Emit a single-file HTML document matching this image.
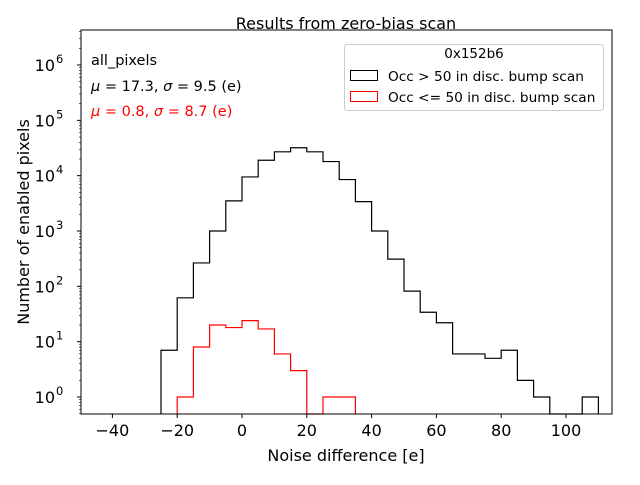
<!DOCTYPE html>
<html><head><meta charset="utf-8"><style>
body{margin:0;background:#fff}
svg text{font-family:"DejaVu Sans","Liberation Sans",sans-serif}
</style></head><body>
<svg id="c" width="640" height="480" xmlns="http://www.w3.org/2000/svg">
<rect width="640" height="480" fill="#fff"/>
<text x="346" y="29" font-size="16" text-anchor="middle">Results from zero-bias scan</text>
<g id="plot"></g>
<rect x="81" y="30" width="531" height="384" fill="none" stroke="#000" stroke-width="1"/>
<text x="91" y="65" font-size="14.5">all_pixels</text>
<text x="91" y="91" font-size="14.5"><tspan font-style="italic">μ</tspan> = 17.3, <tspan font-style="italic">σ</tspan> = 9.5 (e)</text>
<text x="91" y="116" font-size="14.5" fill="#ff0000"><tspan font-style="italic">μ</tspan> = 0.8, <tspan font-style="italic">σ</tspan> = 8.7 (e)</text>
<g>
<rect x="344.5" y="44.5" width="259" height="66" rx="3" fill="#fff" fill-opacity="0.8" stroke="#ccc"/>
<text x="474" y="58" font-size="13.5" text-anchor="middle">0x152b6</text>
<rect x="350.5" y="70.5" width="27" height="10" fill="none" stroke="#000"/>
<text x="388" y="81" font-size="13.7">Occ &gt; 50 in disc. bump scan</text>
<rect x="350.5" y="91.5" width="27" height="10" fill="none" stroke="#ff0000"/>
<text x="388" y="102" font-size="13.7">Occ &lt;= 50 in disc. bump scan</text>
</g>
<text x="346" y="461" font-size="16" text-anchor="middle">Noise difference [e]</text>
<text transform="translate(29,222) rotate(-90)" font-size="16" text-anchor="middle">Number of enabled pixels</text>
</svg>
<script>
const binStart = -25;
const binWidth = 5;
const blackCounts = [7,62,265,1000,3500,9500,19000,27000,32000,27000,18000,8500,3400,1000,310,82,34,22,6,6,5,7,2,1,0,0,1];
const redStart = -20;
const redCounts = [1,8,20,18,24,17,6,3,0,1,1];
const xTicks = [-40,-20,0,20,40,60,80,100];
const yTickExps = [0,1,2,3,4,5,6];

const NS="http://www.w3.org/2000/svg";
const g=document.getElementById('plot');
const X0=81,X1=612,Y0=30,Y1=414;
const xs=v=>242+v*3.24;
const ys=v=>397-Math.log10(v)*55.33;
function yc(v){return v>0?ys(v):Y1;}
function mk(t,a){const e=document.createElementNS(NS,t);for(const k in a)e.setAttribute(k,a[k]);g.appendChild(e);return e;}
function hist(start,counts,color,name){
  let d=`M${xs(start)},${Y1}`;
  counts.forEach((c,i)=>{const x0=xs(start+i*binWidth),x1=xs(start+(i+1)*binWidth);d+=` L${x0},${yc(c)} L${x1},${yc(c)}`;});
  d+=` L${xs(start+counts.length*binWidth)},${Y1}`;
  const p=mk('path',{d:d,fill:'none',stroke:color,'stroke-width':1.2});
  
  
}
hist(binStart,blackCounts,'#000','histogram-black');
hist(redStart,redCounts,'#ff0000','histogram-red');
xTicks.forEach(v=>{
  const x=xs(v);
  mk('line',{x1:x,x2:x,y1:Y1,y2:Y1+4,stroke:'#000'});
  const t=mk('text',{x:x,y:Y1+22,'font-size':16,'text-anchor':'middle'});
  t.textContent=(v<0?'−'+(-v):v);
  
  
});
yTickExps.forEach(e=>{
  const y=ys(Math.pow(10,e));
  mk('line',{x1:X0-4,x2:X0,y1:y,y2:y,stroke:'#000'});
  const t=mk('text',{x:X0-26,y:y+6,'font-size':16,'text-anchor':'end'});
  t.textContent='10';
  
  
  const s=mk('text',{x:X0-25,y:y-2,'font-size':11.5});
  s.textContent=String(e);
  
  
  for(let m=2;m<10;m++){const yy=ys(m*Math.pow(10,e));if(yy>Y0&&yy<Y1)mk('line',{x1:X0-2,x2:X0,y1:yy,y2:yy,stroke:'#000','stroke-width':0.6});}
});
[2,3,4,5,6,7,8,9].forEach(m=>{const yy=ys(m/10);if(yy<Y1)mk('line',{x1:X0-2,x2:X0,y1:yy,y2:yy,stroke:'#000','stroke-width':0.6});});
</script>
</body></html>
